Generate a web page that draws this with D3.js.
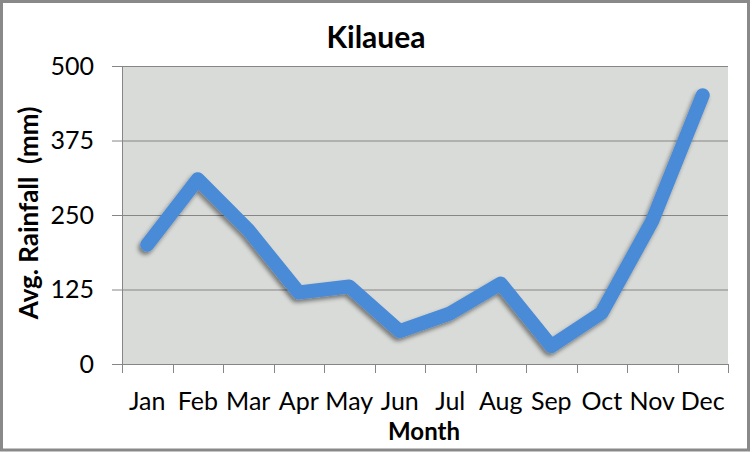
<!DOCTYPE html>
<html><head><meta charset="utf-8">
<script src="https://cdn.jsdelivr.net/npm/d3@7"></script>
<style>body{margin:0;background:#fff}svg{display:block}text{white-space:pre}</style>
</head><body><svg id="c" width="752" height="452"></svg>
<script>
const months = ["Jan","Feb","Mar","Apr","May","Jun","Jul","Aug","Sep","Oct","Nov","Dec"];
const rainfall = [200, 310, 225, 120, 130, 55, 85, 135, 30, 86, 240, 451];
const yTicks = [0, 125, 250, 375, 500];
const title = "Kilauea";
const xTitle = "Month";
const yTitle = "Avg. Rainfall  (mm)";

const svg = d3.select("#c");
const font = "Lato, 'Open Sans', sans-serif";
const m = {left:122, right:728, top:66, bottom:364};

svg.append("rect").attr("x",1.5).attr("y",1.5).attr("width",747).attr("height",448.5)
  .attr("fill","#fff").attr("stroke","#898989").attr("stroke-width",3);

const defs = svg.append("defs");
const f = defs.append("filter").attr("id","sh").attr("x","-20%").attr("y","-20%").attr("width","140%").attr("height","140%");
f.append("feDropShadow").attr("dx",-2).attr("dy",3).attr("stdDeviation",2).attr("flood-color","#000").attr("flood-opacity",0.45);

const x = d3.scaleBand().domain(months).range([m.left, m.right]);
const y = d3.scaleLinear().domain([0,500]).range([m.bottom, m.top]);

svg.append("rect").attr("x",m.left).attr("y",m.top).attr("width",m.right-m.left).attr("height",m.bottom-m.top).attr("fill","#D9DBD8");

// grid
svg.append("g").selectAll("line").data(yTicks.filter(d=>d>0)).join("line")
  .attr("x1",m.left).attr("x2",m.right).attr("y1",d=>y(d)+0.5).attr("y2",d=>y(d)+0.5)
  .attr("stroke","#868686").attr("stroke-width",1);

// y axis
const ya = svg.append("g").attr("transform",`translate(${m.left},0)`)
  .call(d3.axisLeft(y).tickValues(yTicks).tickSize(10).tickPadding(18));
ya.select(".domain").attr("stroke","#868686");
ya.selectAll(".tick line").attr("stroke","#868686");
ya.selectAll("text").attr("font-family",font).attr("font-size",25).attr("fill","#000");

// x axis
const xa = svg.append("g").attr("transform",`translate(0,${m.bottom})`)
  .call(d3.axisBottom(x).tickSize(0));
xa.select(".domain").attr("stroke","#868686");
xa.selectAll("text").attr("font-family",font).attr("font-size",25).attr("fill","#000")
  .attr("y",46).attr("dy",0);
xa.selectAll(".tick line").remove();
const xt = [m.left, ...months.map(d=>x(d)+x.bandwidth())];
svg.append("g").selectAll("line").data(xt).join("line")
  .attr("x1",d=>Math.round(d)+0.5).attr("x2",d=>Math.round(d)+0.5)
  .attr("y1",m.bottom).attr("y2",m.bottom+9).attr("stroke","#868686");

// line
const line = d3.line().x((d,i)=>x(months[i])+x.bandwidth()/2).y(d=>y(d));
svg.append("path").datum(rainfall).attr("d",line).attr("fill","none")
  .attr("stroke","#4A8BD7").attr("stroke-width",14).attr("stroke-linecap","round").attr("stroke-linejoin","round")
  .attr("filter","url(#sh)");

svg.append("text").attr("x",376).attr("y",48).attr("text-anchor","middle")
  .attr("font-family",font).attr("font-weight","bold").attr("font-size",30).text(title);
svg.append("text").attr("x",424).attr("y",440).attr("text-anchor","middle")
  .attr("font-family",font).attr("font-weight","bold").attr("font-size",24).text(xTitle);
svg.append("text").attr("transform","translate(38,213) rotate(-90)").attr("text-anchor","middle")
  .attr("font-family",font).attr("font-weight","bold").attr("font-size",26).text(yTitle);
</script></body></html>
